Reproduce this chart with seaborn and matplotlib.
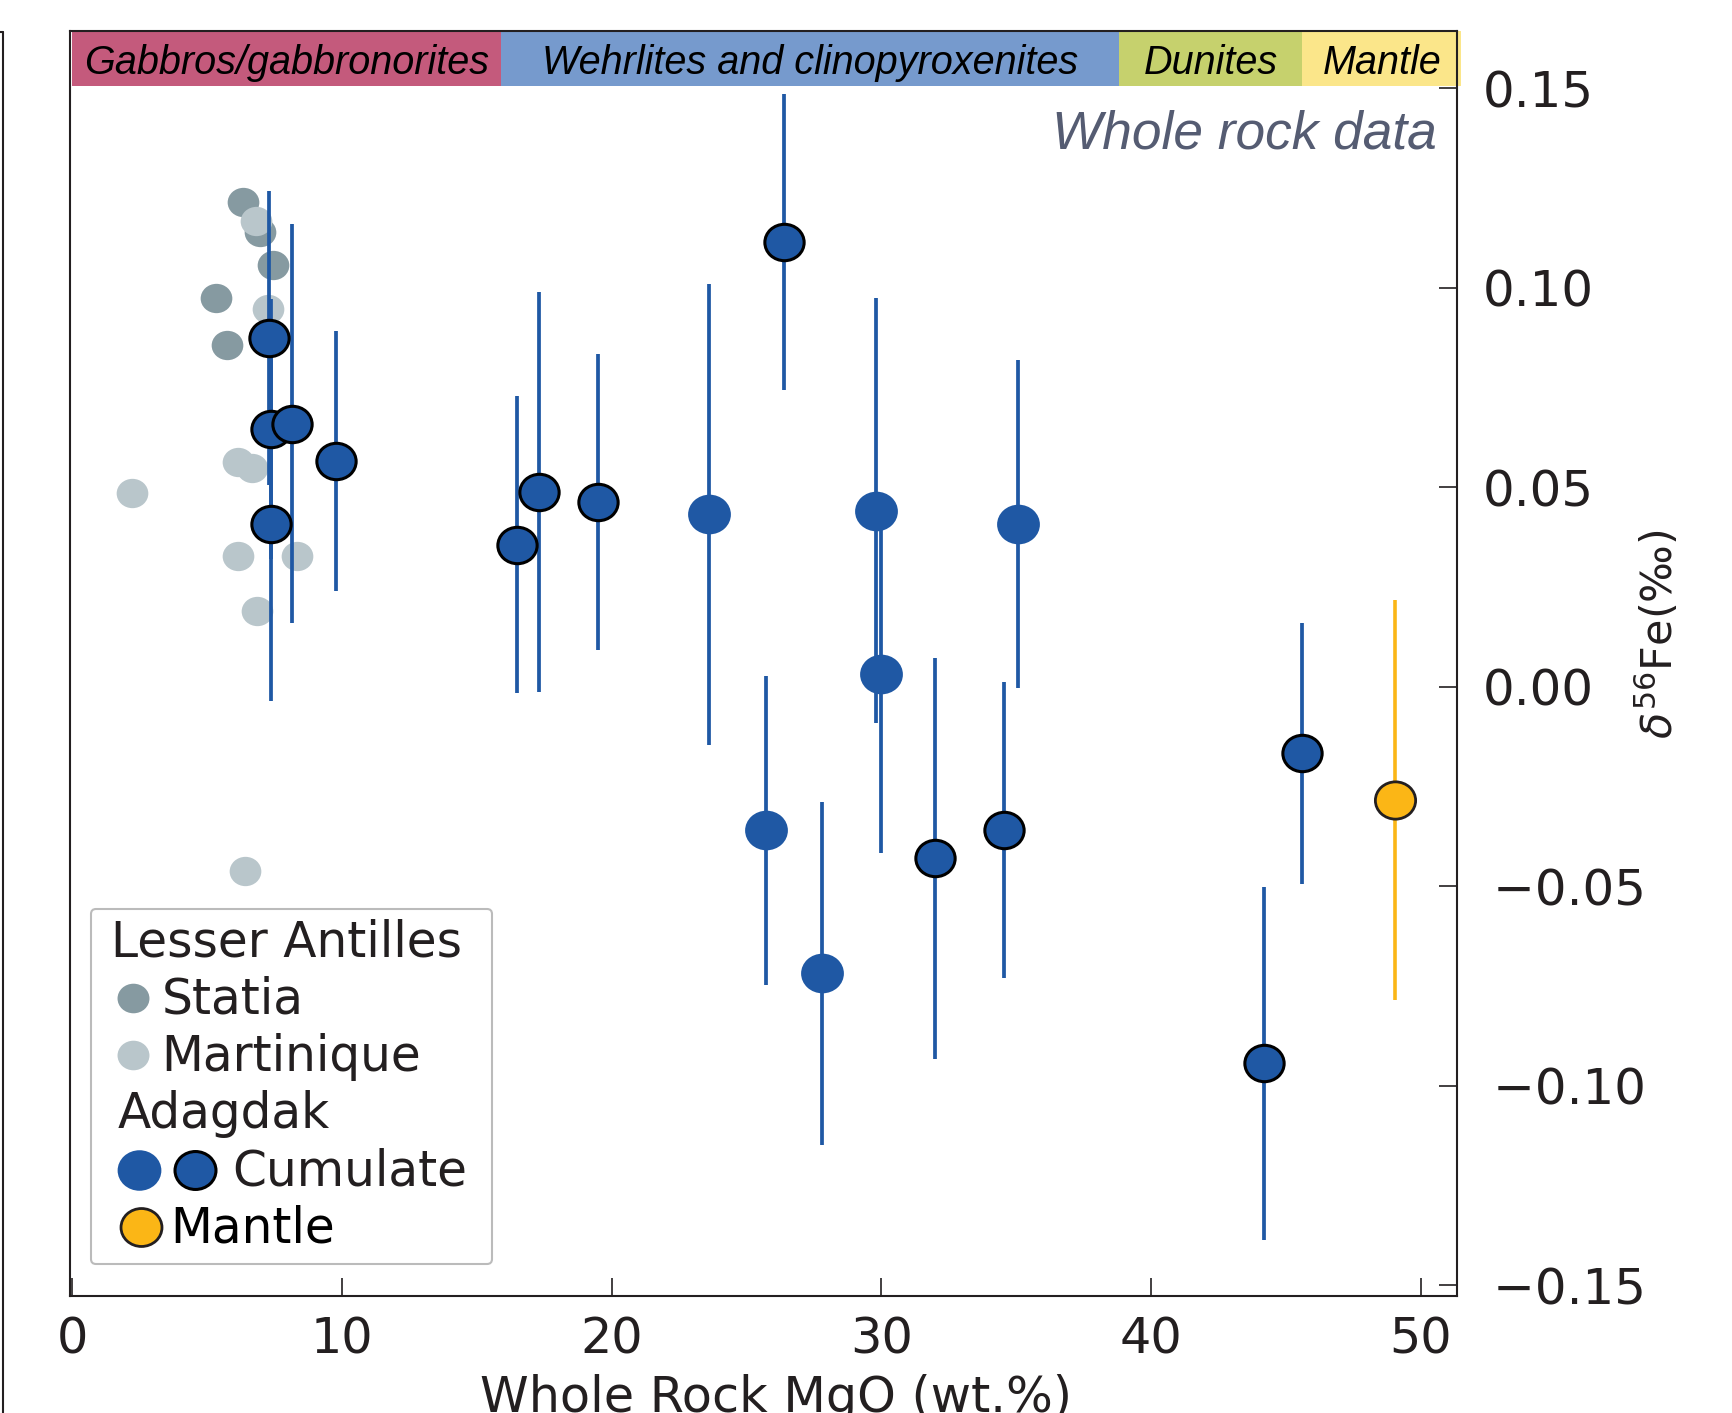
import matplotlib
matplotlib.use("Agg")
import numpy as np
import pandas as pd
import matplotlib.pyplot as plt
import seaborn as sns
from matplotlib.lines import Line2D
from matplotlib.text import Text
from matplotlib.path import Path
from matplotlib.transforms import Affine2D
from matplotlib.legend_handler import HandlerBase
from matplotlib.ticker import FuncFormatter

# ---------------------------------------------------------------- data
STATIA_MGO = [6.34, 6.95, 7.45, 5.31, 5.75]
STATIA_FE = [0.1214, 0.1140, 0.1058, 0.0974, 0.0856]

MARTINIQUE_MGO = [6.81, 7.24, 6.15, 6.66, 2.22, 6.15, 8.34, 6.83, 6.41]
MARTINIQUE_FE = [0.1168, 0.0946, 0.0564, 0.0548, 0.0485, 0.0329, 0.0328, 0.0191, -0.0461]

ADAGDAK_MGO = [7.29, 7.36, 8.13, 9.76, 7.35, 16.48, 17.32, 19.51, 23.60, 26.37,
               29.81, 29.98, 35.08, 25.71, 27.81, 31.98, 34.55, 44.20, 45.60]
ADAGDAK_FE = [0.0874, 0.0647, 0.0659, 0.0566, 0.0409, 0.0356, 0.0488, 0.0463, 0.0432, 0.1115,
              0.0441, 0.0031, 0.0407, -0.0360, -0.0718, -0.0430, -0.0359, -0.0944, -0.0167]
ADAGDAK_ERR = [0.0369, 0.0326, 0.0500, 0.0326, 0.0444, 0.0372, 0.0501, 0.0372, 0.0578, 0.0370,
               0.0533, 0.0447, 0.0411, 0.0388, 0.0430, 0.0502, 0.0372, 0.0443, 0.0327]
ADAGDAK_OUTLINED = [True, True, True, True, True, True, True, True, False, True,
                    False, False, False, False, False, True, True, True, True]

MANTLE_MGO = [49.04]
MANTLE_FE = [-0.0284]
MANTLE_ERR = [0.0502]

BAND_LABELS = ["Gabbros/gabbronorites", "Wehrlites and clinopyroxenites", "Dunites", "Mantle"]
BAND_EDGES = [0.0, 15.9, 38.8, 45.6, 51.5]
BAND_COLORS = ["#c45a7c", "#769acd", "#c6d16d", "#fbe68a"]
BAND_BOTTOM = 0.1505

X_TICKS = [0, 10, 20, 30, 40, 50]
Y_TICKS = [-0.15, -0.10, -0.05, 0.00, 0.05, 0.10, 0.15]
XLIM = (-0.1, 51.33)
YLIM = (-0.1528, 0.1644)

# ---------------------------------------------------------------- style
BLUE = "#1f58a4"
ORANGE = "#fbb616"
STATIA_C = "#869aa1"
MARTI_C = "#b9c6cb"
INK = "#231f20"
ITALIC_FAMILY = ["Liberation Sans", "DejaVu Sans"]
ELLIPSE = Path.unit_circle().transformed(Affine2D().scale(1.08, 1.0))

sns.set_style("white")
plt.rcParams["font.family"] = ["DejaVu Sans"]
plt.rcParams["text.color"] = INK

fig = plt.figure(figsize=(17.33, 14.13), dpi=100)
ax = fig.add_axes([69.6 / 1733, 1 - 1296.4 / 1413, (1456.7 - 69.6) / 1733, (1296.4 - 30.9) / 1413])

adagdak = pd.DataFrame({"mgo": ADAGDAK_MGO, "fe": ADAGDAK_FE,
                        "err": ADAGDAK_ERR, "outlined": ADAGDAK_OUTLINED})
statia = pd.DataFrame({"mgo": STATIA_MGO, "fe": STATIA_FE})
marti = pd.DataFrame({"mgo": MARTINIQUE_MGO, "fe": MARTINIQUE_FE})
mantle = pd.DataFrame({"mgo": MANTLE_MGO, "fe": MANTLE_FE, "err": MANTLE_ERR})

# Lesser Antilles (background)
sns.scatterplot(data=statia, x="mgo", y="fe", color=STATIA_C, s=520, linewidth=0,
                marker=ELLIPSE, legend=False, ax=ax, zorder=3)
sns.scatterplot(data=marti, x="mgo", y="fe", color=MARTI_C, s=520, linewidth=0,
                marker=ELLIPSE, legend=False, ax=ax, zorder=3)

# Adagdak cumulates
ax.errorbar(adagdak["mgo"], adagdak["fe"], yerr=adagdak["err"], fmt="none",
            ecolor=BLUE, elinewidth=2.7, capsize=0, zorder=4)
sns.scatterplot(data=adagdak[~adagdak["outlined"]], x="mgo", y="fe", color=BLUE,
                s=950, linewidth=0, marker=ELLIPSE, legend=False, ax=ax, zorder=5)
sns.scatterplot(data=adagdak[adagdak["outlined"]], x="mgo", y="fe", color=BLUE,
                s=800, edgecolor="black", linewidth=2.2, marker=ELLIPSE, legend=False,
                ax=ax, zorder=5)

# Adagdak mantle
ax.errorbar(mantle["mgo"], mantle["fe"], yerr=mantle["err"], fmt="none",
            ecolor=ORANGE, elinewidth=2.6, capsize=0, zorder=4)
sns.scatterplot(data=mantle, x="mgo", y="fe", color=ORANGE, s=840, marker=ELLIPSE,
                edgecolor=INK, linewidth=2.0, legend=False, ax=ax, zorder=5)

ax.set_xlim(*XLIM)
ax.set_ylim(*YLIM)

# lithology band along the top
for lab, x0, x1, c in zip(BAND_LABELS, BAND_EDGES[:-1], BAND_EDGES[1:], BAND_COLORS):
    ax.fill_between([x0, x1], BAND_BOTTOM, YLIM[1], color=c, lw=0, zorder=2.2, clip_on=False)
    ax.text((x0 + x1) / 2, BAND_BOTTOM + 0.42 * (YLIM[1] - BAND_BOTTOM), lab,
            ha="center", va="center", fontsize=28.5, style="italic",
            family=ITALIC_FAMILY, color="black", zorder=2.3)

ax.text(0.9858, 0.9067, "Whole rock data", transform=ax.transAxes, ha="right",
        va="baseline", fontsize=38.3, style="italic", family=ITALIC_FAMILY, color="#555c72")

# axes, ticks
for sp in ax.spines.values():
    sp.set_visible(True)
    sp.set_linewidth(1.5)
    sp.set_color(INK)
    sp.set_zorder(2.5)


def y_fmt(v, pos):
    # negative labels sit a little further right in the original
    if v < -1e-9:
        return "\u2009\u2212" + f"{abs(v):.2f}"
    return f"{abs(v):.2f}"


ax.set_xticks(X_TICKS)
ax.set_yticks(Y_TICKS)
ax.yaxis.set_major_formatter(FuncFormatter(y_fmt))
ax.tick_params(axis="x", direction="in", length=13, width=1.2, pad=14, labelsize=35.5,
               colors=INK, bottom=True, top=False)
ax.tick_params(axis="y", direction="in", length=13, width=1.2, pad=19, labelsize=36,
               colors=INK, left=False, right=True, labelleft=False, labelright=True)

ax.set_xlabel("Whole Rock MgO (wt.%)", fontsize=35.5, color=INK)
ax.xaxis.set_label_coords(0.509, -0.0613)
ax.yaxis.set_label_position("right")
ax.set_ylabel(r"$\delta^{56}$Fe(‰)", fontsize=31, color=INK, rotation=90)
ax.yaxis.label.set_ha("center")
ax.yaxis.label.set_va("center")
ax.yaxis.set_label_coords(1.1451, 0.5234)


# ---------------------------------------------------------------- legend
class LegendRow:
    def __init__(self, text, text_x, marks=(), color=INK):
        self.text = text
        self.text_x = text_x
        self.marks = marks
        self.color = color


class RowHandler(HandlerBase):
    def create_artists(self, legend, row, xdescent, ydescent, width, height, fontsize, trans):
        base = 2.1
        out = []
        for mx, kw in row.marks:
            out.append(Line2D([mx - xdescent], [base + 11], linestyle="none", marker=ELLIPSE,
                              transform=trans, **kw))
        out.append(Text(row.text_x - xdescent, base, row.text, fontsize=fontsize,
                        va="baseline", ha="left", color=row.color, transform=trans))
        return out


plain_blue = dict(markersize=31.5, markerfacecolor=BLUE, markeredgewidth=0)
ring_blue = dict(markersize=29.5, markerfacecolor=BLUE, markeredgecolor="black", markeredgewidth=2.2)
rows = [
    LegendRow("Lesser Antilles", 8.1),
    LegendRow("Statia", 44.6, [(23.8, dict(markersize=23, markerfacecolor=STATIA_C, markeredgewidth=0))]),
    LegendRow("Martinique", 44.6, [(23.8, dict(markersize=23, markerfacecolor=MARTI_C, markeredgewidth=0))]),
    LegendRow("Adagdak", 13.2),
    LegendRow("Cumulate", 95.7, [(28.3, plain_blue), (68.6, ring_blue)]),
    LegendRow("Mantle", 50.6, [(29.5, dict(markersize=29.5, markerfacecolor=ORANGE,
                                             markeredgecolor=INK, markeredgewidth=2.0))],
              color="black"),
]
LEG_FS = 35
leg = ax.legend(rows, [""] * len(rows), handler_map={LegendRow: RowHandler()},
                loc="upper left", bbox_to_anchor=(0.0152, 0.3059), borderaxespad=0,
                fontsize=LEG_FS, borderpad=6.48 / LEG_FS, handlelength=276.2 / LEG_FS,
                handletextpad=0, handleheight=40.8 / LEG_FS, labelspacing=4.6 / LEG_FS,
                frameon=True, fancybox=True, framealpha=1, edgecolor="#bbbbbb")
leg.get_frame().set_linewidth(1.5)
leg.get_frame().set_boxstyle("round", pad=0, rounding_size=0.1)
leg.set_zorder(6)

# edge of the neighbouring panel at far left
fig.add_artist(Line2D([3.3 / 1733, 3.3 / 1733], [0, 1 - 32 / 1413], color=INK, lw=1.5))
fig.add_artist(Line2D([0, 3.3 / 1733], [1 - 32 / 1413, 1 - 32 / 1413], color=INK, lw=1.5))

fig.savefig("out.png", dpi=100)
